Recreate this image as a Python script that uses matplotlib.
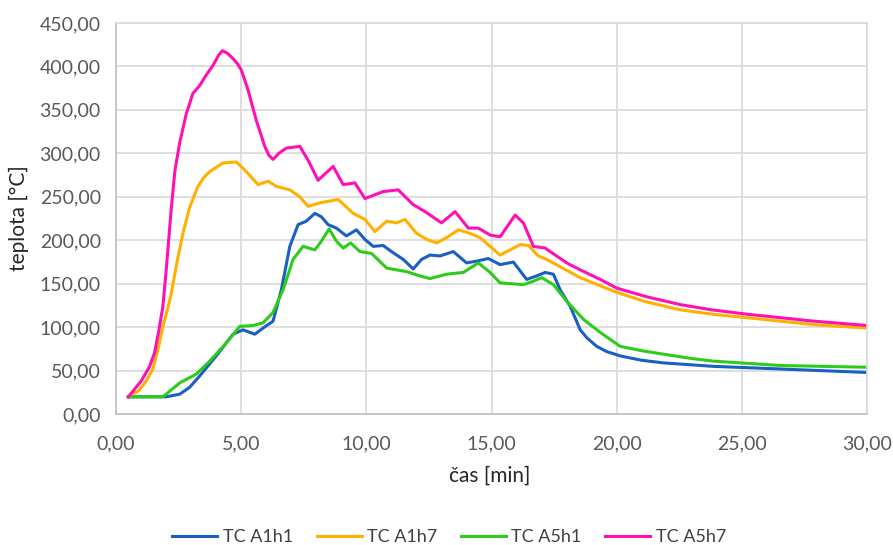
import matplotlib
matplotlib.use("Agg")
import matplotlib.pyplot as plt
from matplotlib.ticker import FuncFormatter, MultipleLocator

plt.rcParams["font.family"] = ["Lato", "DejaVu Sans"]

# values (time in min, temperature in °C)
a1h1_t = [0.49, 2.0, 2.54, 2.94, 3.34, 4.0, 4.67, 5.07, 5.54, 5.87, 6.27, 6.6, 6.94, 7.27, 7.6,
          7.94, 8.2, 8.47, 8.8, 9.2, 9.6, 9.94, 10.27, 10.67, 11.0, 11.47, 11.87, 12.2, 12.54,
          12.94, 13.47, 14.0, 14.4, 14.87, 15.34, 15.87, 16.4, 16.8, 17.14, 17.47, 17.74, 18.14,
          18.54, 18.8, 19.2, 19.6, 20.14, 21.0, 21.87, 23.87, 26.54, 30.0]
a1h1_v = [20, 20, 23, 31, 44, 67, 92, 97, 92, 99, 107, 143, 193, 218, 222,
          231, 227, 218, 214, 205, 212, 201, 193, 194, 187, 178, 167, 178, 183,
          182, 187, 174, 176, 179, 172, 175, 155, 159, 163, 161, 143, 124,
          97, 88, 78, 72, 67, 62, 59, 55, 52, 48]

a1h7_t = [0.49, 0.9, 1.2, 1.47, 1.7, 1.87, 2.05, 2.2, 2.4, 2.67, 2.94, 3.27, 3.5, 3.74, 4.27,
          4.81, 5.2, 5.67, 6.07, 6.4, 6.94, 7.34, 7.67, 8.14, 8.87, 9.47, 9.94, 10.34, 10.81,
          11.2, 11.54, 12.0, 12.41, 12.81, 13.2, 13.67, 14.14, 14.54, 15.34, 16.14, 16.47,
          16.87, 17.2, 18.54, 20.0, 21.2, 22.54, 23.8, 25.2, 27.87, 30.0]
a1h7_v = [20, 27, 38, 52, 78, 101, 120, 138, 170, 208, 238, 262, 272, 279, 289,
          290, 279, 264, 268, 262, 258, 250, 239, 243, 247, 231, 224, 210, 222,
          220, 224, 208, 201, 197, 203, 212, 208, 203, 183, 195, 194,
          182, 178, 157, 140, 129, 120, 115, 111, 103, 99]

a5h1_t = [0.49, 1.87, 2.54, 3.2, 3.74, 4.4, 4.94, 5.47, 5.87, 6.27, 6.67, 7.07, 7.47, 7.94,
          8.2, 8.51, 8.8, 9.07, 9.37, 9.74, 10.2, 10.81, 11.6, 12.14, 12.54, 13.2, 13.87,
          14.47, 14.94, 15.34, 16.27, 16.67, 17.0, 17.47, 18.0, 18.67, 19.34, 20.14, 21.0,
          21.87, 23.0, 23.87, 26.54, 30.0]
a5h1_v = [20, 20, 36, 46, 61, 82, 101, 102, 105, 117, 143, 178, 193, 189,
          199, 213, 199, 191, 197, 187, 185, 168, 164, 159, 156, 161, 163,
          174, 163, 151, 149, 153, 157, 149, 130, 109, 94, 78, 73,
          69, 64, 61, 56, 54]

a5h7_t = [0.49, 1.0, 1.34, 1.54, 1.7, 1.87, 2.0, 2.1, 2.2, 2.35, 2.54, 2.8, 3.07, 3.34, 3.6,
          3.87, 4.1, 4.25, 4.45, 4.67, 4.85, 5.0, 5.27, 5.6, 5.94, 6.1, 6.27, 6.5, 6.8, 7.34,
          7.67, 8.07, 8.67, 9.07, 9.54, 9.94, 10.67, 11.27, 11.87, 12.34, 13.0, 13.54, 14.07,
          14.47, 14.94, 15.34, 15.94, 16.27, 16.67, 17.14, 18.0, 18.54, 19.34, 20.0, 21.2,
          22.54, 23.8, 25.2, 27.87, 30.0]
a5h7_v = [20, 38, 55, 71, 95, 124, 165, 200, 235, 280, 312, 345, 369, 378, 390,
          401, 413, 418, 415, 409, 403, 396, 373, 338, 308, 298, 293, 300, 306, 308,
          292, 269, 285, 264, 266, 248, 256, 258, 241, 233, 220, 233, 214,
          214, 206, 204, 229, 220, 193, 191, 174, 166, 155, 145, 135,
          126, 120, 115, 107, 102]

series = [
    ("TC A1h1", a1h1_t, a1h1_v, "#1a5fc4"),
    ("TC A1h7", a1h7_t, a1h7_v, "#ffb000"),
    ("TC A5h1", a5h1_t, a5h1_v, "#2ecc1a"),
    ("TC A5h7", a5h7_t, a5h7_v, "#ff10b4"),
]

fig = plt.figure(figsize=(8.93, 5.45), dpi=100)
ax = fig.add_axes([0.130, 0.240, 0.841, 0.718])

for name, t, v, c in series:
    ax.plot(t, v, color=c, lw=2.2, label=name, solid_joinstyle="round")

ax.set_xlim(0, 30)
ax.set_ylim(0, 450)
ax.xaxis.set_major_locator(MultipleLocator(5))
ax.yaxis.set_major_locator(MultipleLocator(50))
comma = FuncFormatter(lambda v, p: f"{v:.2f}".replace(".", ","))
ax.xaxis.set_major_formatter(comma)
ax.yaxis.set_major_formatter(comma)

ax.grid(True, color="#d9d9d9", lw=1.2)
ax.set_axisbelow(True)
for s in ax.spines.values():
    s.set_color("#d9d9d9")
    s.set_linewidth(1.2)
ax.spines["left"].set_color("#bfbfbf")
ax.spines["bottom"].set_color("#bfbfbf")
ax.tick_params(length=0, labelsize=14, colors="#595959")
ax.tick_params(axis="x", pad=15)
ax.tick_params(axis="y", pad=11)

ax.set_xlabel("čas [min]", fontsize=15, color="#262626", va="center")
ax.set_ylabel("teplota [°C]", fontsize=15, color="#262626", va="center")
ax.xaxis.set_label_coords(0.498, -0.158)
ax.yaxis.set_label_coords(-0.129, 0.5)

fig.legend(loc="center", bbox_to_anchor=(0.503, 0.0147), ncol=4, frameon=False,
           fontsize=13, handlelength=2.5, handletextpad=0.3, columnspacing=1.3,
           labelcolor="#404040", borderpad=0)

fig.savefig("out.png", dpi=100)
